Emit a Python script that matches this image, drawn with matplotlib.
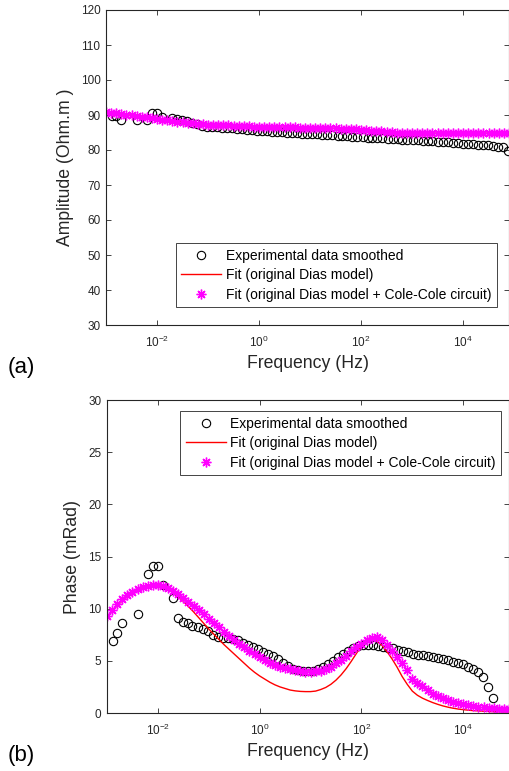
import numpy as np
import matplotlib
matplotlib.use('Agg')
import matplotlib.pyplot as plt

plt.rcParams['font.family'] = ['Liberation Sans', 'DejaVu Sans']

# experimental data (log10 of frequency in Hz)
exp_logf = [-2.89, -2.80, -2.70, -2.40, -2.20, -2.10, -2.00, -1.90,
            -1.71, -1.61, -1.51, -1.41, -1.32, -1.22, -1.12, -1.02, -0.92, -0.82,
            -0.73, -0.63, -0.53, -0.43, -0.33, -0.23, -0.14, -0.04, 0.06, 0.16,
            0.26, 0.36, 0.45, 0.55, 0.65, 0.75, 0.85, 0.95, 1.04, 1.14,
            1.24, 1.34, 1.44, 1.54, 1.63, 1.73, 1.83, 1.93, 2.03, 2.13,
            2.22, 2.32, 2.42, 2.52, 2.62, 2.72, 2.81, 2.91, 3.01, 3.11,
            3.21, 3.31, 3.40, 3.50, 3.60, 3.70, 3.80, 3.90, 3.99, 4.09,
            4.19, 4.29, 4.39, 4.49, 4.58, 4.68, 4.78, 4.88]
exp_amp = [89.7, 89.7, 88.7, 88.7, 88.7, 90.5, 90.5, 89.5,
           89.05, 88.9, 88.6, 88.2, 87.8, 87.3, 87.0, 86.7, 86.55, 86.45,
           86.35, 86.25, 86.15, 86.0, 85.9, 85.8, 85.7, 85.55, 85.45, 85.35,
           85.25, 85.15, 85.05, 84.95, 84.85, 84.75, 84.65, 84.6, 84.5, 84.45,
           84.35, 84.25, 84.15, 84.05, 83.95, 83.9, 83.8, 83.7, 83.6, 83.55,
           83.45, 83.4, 83.3, 83.25, 83.2, 83.1, 83.0, 82.95, 82.85, 82.75,
           82.65, 82.55, 82.45, 82.35, 82.25, 82.15, 82.05, 81.95, 81.85, 81.75,
           81.6, 81.5, 81.4, 81.3, 81.2, 81.0, 80.8, 79.8]
exp_phase = [6.9, 7.7, 8.6, 9.5, 13.3, 14.1, 14.1, 12.3,
             11.0, 9.1, 8.75, 8.6, 8.35, 8.2, 8.05, 7.85, 7.5, 7.25,
             7.2, 7.15, 7.1, 7.0, 6.75, 6.5, 6.35, 6.1, 5.85, 5.7,
             5.45, 5.15, 4.8, 4.5, 4.25, 4.1, 4.0, 4.0, 4.05, 4.2,
             4.4, 4.7, 5.0, 5.35, 5.7, 5.95, 6.2, 6.4, 6.5, 6.5,
             6.5, 6.45, 6.35, 6.25, 6.2, 6.05, 5.95, 5.8, 5.7, 5.6,
             5.55, 5.45, 5.35, 5.25, 5.15, 5.05, 4.9, 4.8, 4.65, 4.45,
             4.2, 3.9, 3.45, 2.5, 1.45, 0.2, -1.5, -3.0]

# fitted curves
fit_logf = [-3.0, -2.9, -2.8, -2.7, -2.6, -2.5, -2.4, -2.3, -2.2, -2.1,
            -2.0, -1.9, -1.8, -1.7, -1.6, -1.5, -1.4, -1.3, -1.2, -1.1,
            -1.0, -0.9, -0.8, -0.7, -0.6, -0.5, -0.4, -0.3, -0.2, -0.1,
            0.0, 0.1, 0.2, 0.3, 0.4, 0.5, 0.6, 0.7, 0.8, 0.9,
            1.0, 1.1, 1.2, 1.3, 1.4, 1.5, 1.6, 1.7, 1.8, 1.9,
            2.0, 2.1, 2.2, 2.3, 2.4, 2.5, 2.6, 2.7, 2.8, 2.9,
            3.0, 3.1, 3.2, 3.3, 3.4, 3.5, 3.6, 3.7, 3.8, 3.9,
            4.0, 4.1, 4.2, 4.3, 4.4, 4.5, 4.6, 4.7, 4.8, 4.9]
dias_amp = [90.8, 90.65, 90.5, 90.3, 90.1, 89.9, 89.7, 89.5, 89.3, 89.1,
            88.9, 88.7, 88.5, 88.3, 88.1, 87.9, 87.75, 87.6, 87.45, 87.35,
            87.25, 87.2, 87.15, 87.1, 87.05, 87.0, 86.9, 86.85, 86.75, 86.7,
            86.65, 86.6, 86.6, 86.55, 86.5, 86.5, 86.45, 86.45, 86.4, 86.4,
            86.35, 86.3, 86.3, 86.25, 86.25, 86.2, 86.15, 86.1, 86.05, 86.0,
            85.95, 85.85, 85.65, 85.45, 85.3, 85.15, 85.05, 84.95, 84.9, 84.85,
            84.85, 84.85, 84.8, 84.8, 84.8, 84.8, 84.8, 84.8, 84.8, 84.8,
            84.8, 84.8, 84.8, 84.8, 84.8, 84.8, 84.8, 84.8, 84.8, 84.8]
cole_amp = [90.8, 90.65, 90.5, 90.3, 90.1, 89.9, 89.7, 89.5, 89.3, 89.1,
            88.9, 88.7, 88.5, 88.3, 88.1, 87.9, 87.75, 87.6, 87.45, 87.35,
            87.25, 87.2, 87.15, 87.1, 87.05, 87.0, 86.9, 86.85, 86.75, 86.7,
            86.65, 86.6, 86.6, 86.55, 86.5, 86.5, 86.45, 86.45, 86.4, 86.4,
            86.35, 86.3, 86.3, 86.25, 86.2, 86.15, 86.1, 86.05, 86.0, 85.9,
            85.8, 85.7, 85.55, 85.4, 85.3, 85.2, 85.1, 85.0, 84.95, 84.9,
            84.9, 84.85, 84.85, 84.85, 84.8, 84.8, 84.8, 84.8, 84.8, 84.8,
            84.8, 84.8, 84.8, 84.8, 84.8, 84.8, 84.8, 84.8, 84.8, 84.8]
dias_phase = [9.15, 9.75, 10.3, 10.75, 11.15, 11.5, 11.75, 11.95, 12.1, 12.2,
              12.2, 12.1, 11.85, 11.55, 11.15, 10.7, 10.2, 9.7, 9.15, 8.6,
              8.05, 7.55, 7.05, 6.55, 6.1, 5.65, 5.2, 4.75, 4.3, 3.9,
              3.55, 3.25, 2.95, 2.7, 2.5, 2.35, 2.2, 2.12, 2.07, 2.05,
              2.05, 2.1, 2.25, 2.45, 2.75, 3.15, 3.65, 4.25, 4.95, 5.7,
              6.4, 6.85, 7.0, 6.9, 6.5, 5.9, 5.2, 4.4, 3.5, 2.75,
              2.1, 1.7, 1.42, 1.2, 1.0, 0.83, 0.68, 0.56, 0.46, 0.38,
              0.32, 0.27, 0.23, 0.2, 0.17, 0.15, 0.13, 0.12, 0.11, 0.1]
cole_phase = [9.3, 9.9, 10.45, 10.9, 11.3, 11.6, 11.85, 12.05, 12.2, 12.3,
              12.3, 12.2, 11.95, 11.7, 11.4, 11.05, 10.65, 10.25, 9.85, 9.45,
              9.05, 8.65, 8.2, 7.8, 7.4, 7.0, 6.65, 6.3, 5.95, 5.65,
              5.35, 5.05, 4.8, 4.6, 4.45, 4.3, 4.2, 4.1, 4.03, 3.97,
              3.95, 3.98, 4.05, 4.2, 4.45, 4.75, 5.1, 5.45, 5.95, 6.35,
              6.65, 7.0, 7.2, 7.25, 7.0, 6.5, 5.95, 5.4, 4.8, 4.1,
              3.3, 2.85, 2.55, 2.2, 1.85, 1.62, 1.4, 1.2, 1.05, 0.93,
              0.84, 0.75, 0.68, 0.6, 0.55, 0.5, 0.45, 0.41, 0.37, 0.34]

labels = ['Experimental data smoothed', 'Fit (original Dias model)',
          'Fit (original Dias model + Cole-Cole circuit)']

f_exp = 10 ** np.array(exp_logf)
f_fit = 10 ** np.array(fit_logf)

W, H = 510, 771
fig = plt.figure(figsize=(W / 100, H / 100), dpi=100)
ax1 = fig.add_axes([106 / W, 1 - 325 / H, 403.5 / W, 315 / H])
ax2 = fig.add_axes([107 / W, 1 - 713 / H, 402.5 / W, 313 / H])

grey = '#262626'
star = (8, 2, 0)


def draw(ax, y_exp, y_dias, y_cole):
    ax.plot(f_exp, y_exp, 'o', mfc='none', mec='black', ms=6, mew=0.8, label=labels[0])
    ax.plot(f_fit, y_dias, '-', color='red', lw=1.0, label=labels[1])
    ax.plot(f_fit, y_cole, linestyle='none', marker=star, color='magenta',
            ms=7, mew=1.0, label=labels[2])
    ax.set_xscale('log')
    ax.set_xlim(1e-3, 10 ** 4.91)
    ax.set_xticks([1e-2, 1e0, 1e2, 1e4])
    ax.minorticks_off()
    ax.tick_params(direction='in', top=True, right=True, length=3.5, width=0.6,
                   labelsize=8.5, colors=grey)
    ax.tick_params(axis='x', pad=7)
    ax.tick_params(axis='y', pad=4)
    for s in ax.spines.values():
        s.set_linewidth(0.8)
        s.set_color(grey)
    ax.set_xlabel('Frequency (Hz)', fontsize=12.7, color=grey, labelpad=4)


def add_legend(ax, loc, anchor):
    leg = ax.legend(loc=loc, bbox_to_anchor=anchor, fontsize=10, borderaxespad=0,
                    handlelength=2.9, handletextpad=0.3, labelspacing=0.4,
                    borderpad=0.4, fancybox=False, framealpha=1, edgecolor=grey)
    leg.get_frame().set_linewidth(0.6)


draw(ax1, exp_amp, dias_amp, cole_amp)
ax1.set_ylim(30, 120)
ax1.set_yticks(range(30, 121, 10))
ax1.set_ylabel('Amplitude (Ohm.m )', fontsize=12.7, color=grey, labelpad=5)
add_legend(ax1, 'lower right', (0.968, 0.056))

draw(ax2, exp_phase, dias_phase, cole_phase)
ax2.set_ylim(0, 30)
ax2.set_yticks(range(0, 31, 5))
ax2.set_ylabel('Phase (mRad)', fontsize=12.7, color=grey, labelpad=5)
add_legend(ax2, 'upper right', (0.979, 0.965))

fig.text(8 / W, 1 - 367 / H, '(a)', fontsize=16, va='center', ha='left')
fig.text(8 / W, 1 - 755 / H, '(b)', fontsize=16, va='center', ha='left')

fig.savefig('out.png', dpi=100)
